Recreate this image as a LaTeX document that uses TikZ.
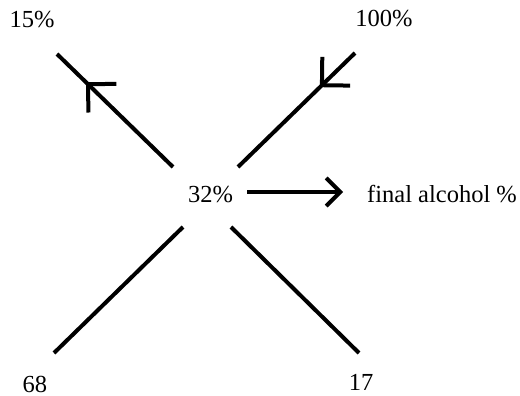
\documentclass[tikz,border=0pt]{standalone}
\usepackage{fontspec}
\setmainfont{Liberation Serif}
\usetikzlibrary{arrows.meta,decorations.markings}
\begin{document}
\begin{tikzpicture}[x=1pt,y=-1pt,
  lbl/.style={inner sep=0pt,anchor=base,font=\fontsize{24.5}{28}\selectfont},
  bar/.style={line width=4pt,black},
  barb/.tip={Straight Barb[length=20pt,width=40pt,line width=4pt]},
  midtip/.style={postaction={decorate},decoration={markings,
    mark=at position #1 with {\arrow{barb}}}},
  flow/.style={bar,-{Straight Barb[length=14pt,width=28pt,line width=4pt]}}]
\useasboundingbox (0,0) rectangle (520,396);
% labels
\node[lbl] (pA) at (32,28) {15\%};
\node[lbl] (pB) at (384,27) {100\%};
\node[lbl] (mix) at (210.5,202) {32\%};
\node[lbl,anchor=base west] (res) at (367,202) {final alcohol \%};
\node[lbl] (qA) at (35,392) {68};
\node[lbl] (qB) at (361,390) {17};
% line ends
\coordinate (ulIn) at (173,167);
\coordinate (ulOut) at (57,54);
\coordinate (urIn) at (238,167);
\coordinate (urOut) at (355,53);
\coordinate (llIn) at (183,227);
\coordinate (llOut) at (54,353);
\coordinate (lrIn) at (231,227);
\coordinate (lrOut) at (359,353);
% the cross
\draw[bar,midtip=0.75] (ulIn) -- (ulOut);
\draw[bar,midtip=0.3] (urOut) -- (urIn);
\draw[bar] (llIn) -- (llOut);
\draw[bar] (lrIn) -- (lrOut);
% result arrow
\draw[flow] ([xshift=14pt,yshift=10pt]mix.base east) -- ([xshift=-24pt,yshift=10pt]res.base west);
\end{tikzpicture}
\end{document}
